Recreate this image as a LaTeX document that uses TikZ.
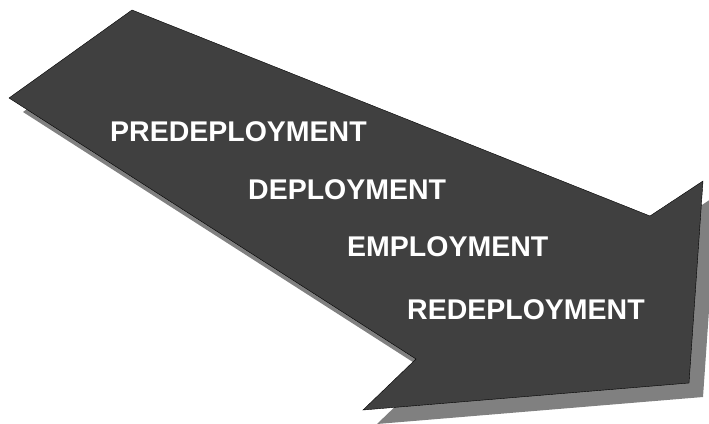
\documentclass[tikz,border=0pt]{standalone}
\usepackage{fontspec}
\setmainfont{Liberation Sans}
\usetikzlibrary{positioning}
\definecolor{arrowfill}{HTML}{404040}
\definecolor{shadowfill}{HTML}{808080}
\tikzset{phase/.style = {anchor=west, inner sep=0pt, text=white, font=\bfseries\fontsize{28.5}{30}\selectfont}}

\begin{document}
\begin{tikzpicture}[x=1pt, y=-1pt, thin]
            \useasboundingbox (0,0) rectangle (709,423);
            % corners of the big arrow
            \coordinate (top) at (132,10);
            \coordinate (left) at (9,98);
            \coordinate (notch) at (416,359);
            \coordinate (foot) at (363,410);
            \coordinate (base) at (689,383);
            \coordinate (tip) at (703,181);
            \coordinate (dip) at (650,216);
            \fill[shadowfill] ([shift={(14,14)}]top) -- ([shift={(14,14)}]dip) -- ([shift={(14,14)}]tip) -- ([shift={(14,14)}]base) -- ([shift={(14,14)}]foot) -- ([shift={(14,14)}]notch) -- ([shift={(14,14)}]left) -- cycle;
            \filldraw[fill=arrowfill, draw=black] (top) -- (dip) -- (tip) -- (base) -- (foot) -- (notch) -- (left) -- cycle;
            \node[phase] (pre) at (110,132) {PREDEPLOYMENT};
            \node[phase] (dep) at (248,189.5) {DEPLOYMENT};
            \node[phase] (emp) at (347,247) {EMPLOYMENT};
            \node[phase] (red) at (407,310) {REDEPLOYMENT};
        \end{tikzpicture}
\end{document}
